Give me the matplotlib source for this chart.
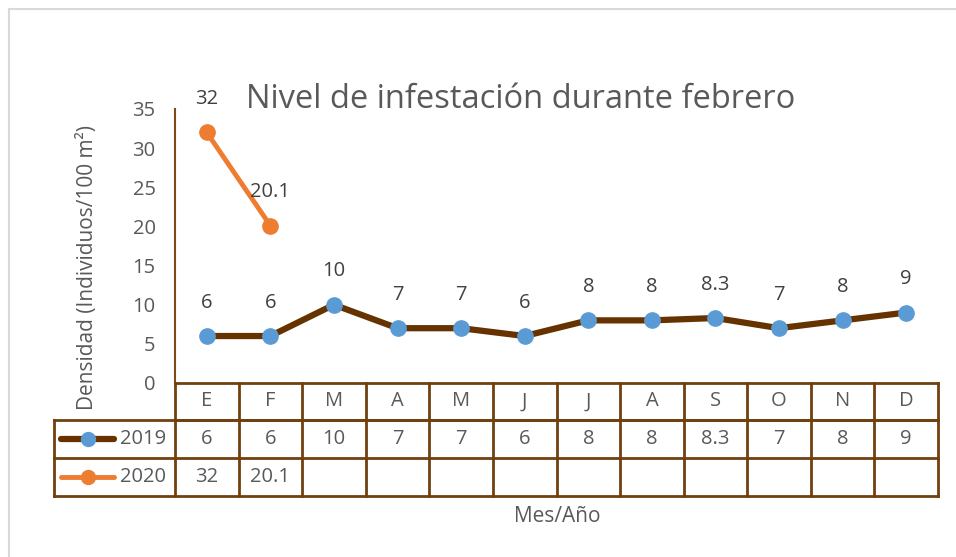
import numpy as np
import matplotlib
matplotlib.use("Agg")
import matplotlib.pyplot as plt
from matplotlib.lines import Line2D

months = ["E", "F", "M", "A", "M", "J", "J", "A", "S", "O", "N", "D"]
v2019 = [6, 6, 10, 7, 7, 6, 8, 8, 8.3, 7, 8, 9]
v2020 = [32, 20.1]
series_names = ["2019", "2020"]
yticks = [0, 5, 10, 15, 20, 25, 30, 35]

brown = "#663300"
blue = "#5B9BD5"
orange = "#ED7D31"
grid_brown = "#70400F"
txt = "#595959"
FONT = ["Open Sans", "DejaVu Sans"]
plt.rcParams["font.family"] = FONT
FS = 14.5

W, H = 956, 557
fig = plt.figure(figsize=(W / 100, H / 100), dpi=100)

# plot area in pixels
x0, x1 = 175, 938
y_top, y_bot = 109, 383
ax = fig.add_axes([x0 / W, (H - y_bot) / H, (x1 - x0) / W, (y_bot - y_top) / H])

n = len(months)
xs = np.arange(n)
ax.plot(xs, v2019, color=brown, lw=4.5, marker="o", ms=11,
        mfc=blue, mec=blue, solid_capstyle="round", zorder=3, clip_on=False)
ax.plot(xs[:len(v2020)], v2020, color=orange, lw=3.5, marker="o", ms=11,
        mfc=orange, mec=orange, zorder=3, clip_on=False)

def fmt(v):
    return f"{v:g}"

for x, v in zip(xs, v2019):
    ax.annotate(fmt(v), (x, v), xytext=(0, 24), textcoords="offset points",
                ha="center", va="center", fontsize=FS, color="#404040")
for x, v in zip(xs, v2020):
    ax.annotate(fmt(v), (x, v), xytext=(0, 24), textcoords="offset points",
                ha="center", va="center", fontsize=FS, color="#404040")

ax.set_xlim(-0.5, n - 0.5)
ax.set_ylim(0, 35)
ax.set_yticks(yticks)
ax.set_xticks([])
ax.tick_params(axis="y", length=0, pad=14, labelsize=FS, labelcolor=txt)
for s in ["top", "right"]:
    ax.spines[s].set_visible(False)
ax.spines["left"].set_color("#7F4A1A")
ax.spines["left"].set_linewidth(1.5)
ax.spines["bottom"].set_color(grid_brown)
ax.spines["bottom"].set_linewidth(2)

ax.set_ylabel("Densidad (Individuos/100 m²)", fontsize=15, color=txt)
ax.yaxis.label.set_va("center")
ax.yaxis.set_label_coords((88 - x0) / (x1 - x0), (y_bot - 268) / (y_bot - y_top))

# data table below the axis
def fy(py):
    return (y_bot - py) / (y_bot - y_top)

row_edges = [fy(383), fy(420), fy(458), fy(496)]
left_edge = (54 - x0) / (x1 - x0)
tr = ax.get_xaxis_transform()
lk = dict(color=grid_brown, lw=2, clip_on=False, transform=ax.transAxes,
          solid_capstyle="projecting")
for i in range(n + 1):
    xf = i / n
    ax.add_line(Line2D([xf, xf], [row_edges[0], row_edges[3]], **lk))
ax.add_line(Line2D([0, 1], [row_edges[1], row_edges[1]], **lk))
for r in (1, 2, 3):
    ax.add_line(Line2D([left_edge, 1], [row_edges[r], row_edges[r]], **lk))
ax.add_line(Line2D([left_edge, left_edge], [row_edges[1], row_edges[3]], **lk))

def mid(a, b):
    return (a + b) / 2

for x, m in zip(xs, months):
    ax.text(x, mid(row_edges[0], row_edges[1]), m, transform=tr, ha="center",
            va="center", fontsize=FS, color=txt)
for x, v in zip(xs, v2019):
    ax.text(x, mid(row_edges[1], row_edges[2]), fmt(v), transform=tr,
            ha="center", va="center", fontsize=FS, color=txt)
for x, v in zip(xs, v2020):
    ax.text(x, mid(row_edges[2], row_edges[3]), fmt(v), transform=tr,
            ha="center", va="center", fontsize=FS, color=txt)

# legend keys inside the table
for r, (name, lc, lw) in enumerate(zip(series_names, [brown, orange], [4.5, 3.5])):
    yc = mid(row_edges[r + 1], row_edges[r + 2])
    ka = (61 - x0) / (x1 - x0)
    kb = (114 - x0) / (x1 - x0)
    ax.add_line(Line2D([ka, kb], [yc, yc], color=lc, lw=lw, clip_on=False,
                       transform=ax.transAxes, solid_capstyle="round"))
    mc = blue if r == 0 else orange
    ax.add_line(Line2D([(ka + kb) / 2], [yc], marker="o", ms=10, mfc=mc, mec=mc,
                       clip_on=False, transform=ax.transAxes, lw=0))
    ax.text((143 - x0) / (x1 - x0), yc, name, transform=ax.transAxes,
            ha="center", va="center", fontsize=FS, color=txt)

fig.text(521 / W, 1 - 100 / H, "Nivel de infestación durante febrero",
         ha="center", va="center", fontsize=23.5, color=txt)
fig.text(557 / W, 1 - 517 / H, "Mes/Año", ha="center", va="center",
         fontsize=15, color=txt)

# chart frame
fig.add_artist(Line2D([9 / W, 1], [1 - 9 / H, 1 - 9 / H], color="#D9D9D9",
                      lw=1.5, transform=fig.transFigure))
fig.add_artist(Line2D([9 / W, 9 / W], [0, 1 - 9 / H], color="#D9D9D9",
                      lw=1.5, transform=fig.transFigure))

fig.savefig("out.png", dpi=100)
